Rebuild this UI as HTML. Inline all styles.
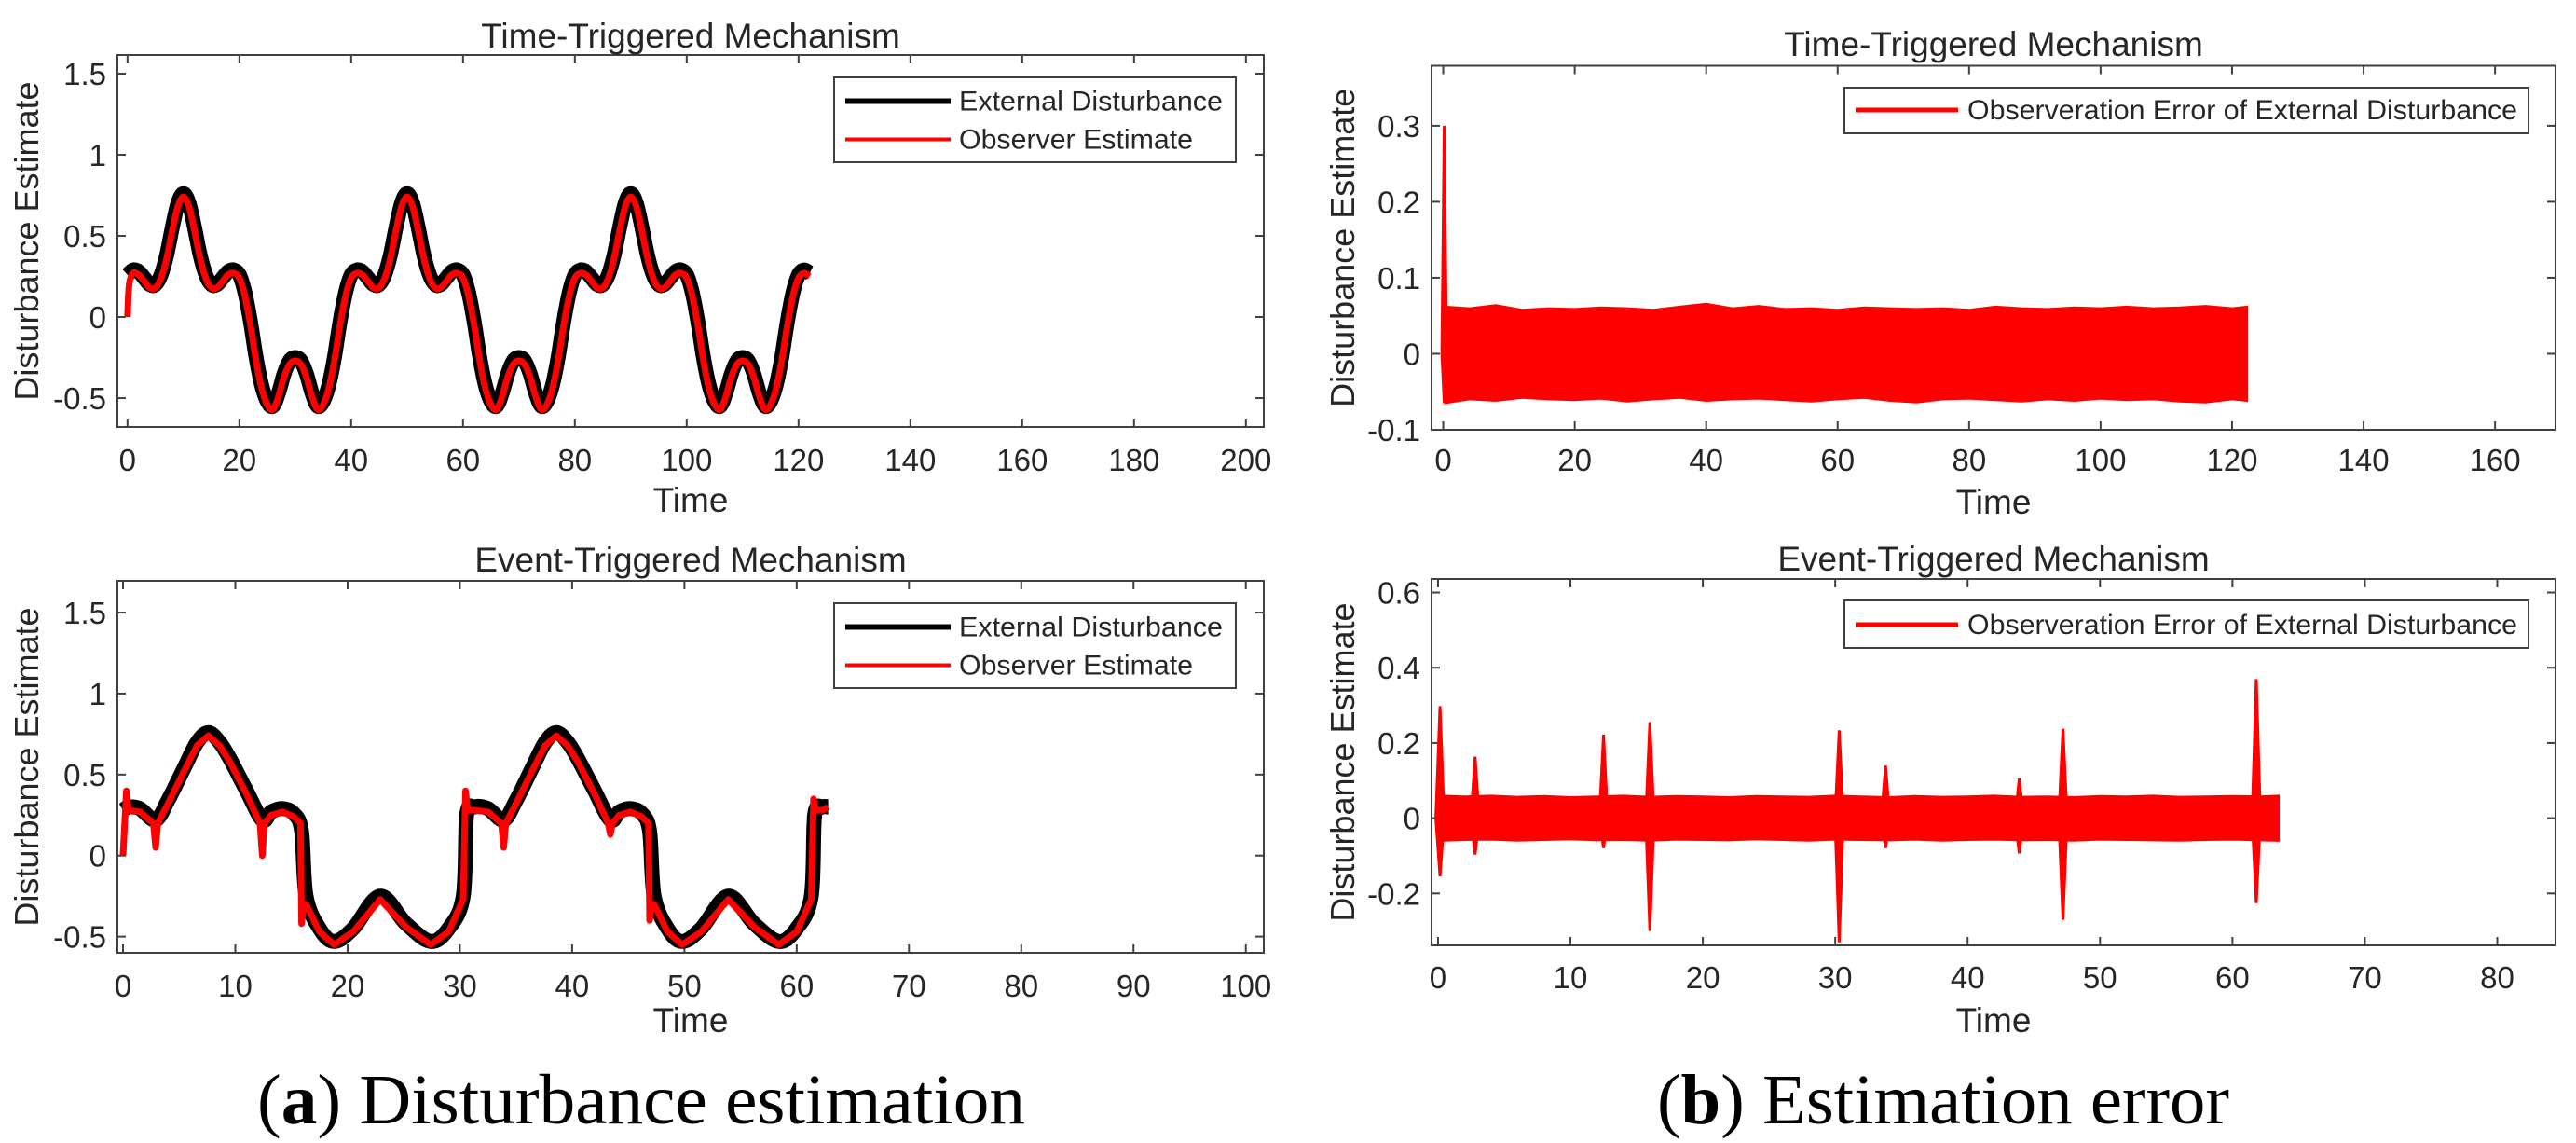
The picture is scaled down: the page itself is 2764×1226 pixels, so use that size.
<!DOCTYPE html>
<html><head><meta charset="utf-8"><style>
html,body{margin:0;padding:0;background:#fff}
svg{display:block}
text{font-family:"Liberation Sans",sans-serif;fill:#262626}
.cap{font-family:"Liberation Serif",serif;fill:#000}
</style></head><body>
<svg id="fig" width="2764" height="1226" viewBox="0 0 2764 1226" xmlns="http://www.w3.org/2000/svg">
<rect width="2764" height="1226" fill="#fff"/>
<text class="cap" x="276" y="1205" font-size="76" textLength="824" lengthAdjust="spacingAndGlyphs">(<tspan font-weight="bold">a</tspan>) Disturbance estimation</text>
<text class="cap" x="1778" y="1205" font-size="76" textLength="614" lengthAdjust="spacingAndGlyphs">(<tspan font-weight="bold">b</tspan>) Estimation error</text>
</svg>
<script>
// ---- Time-triggered disturbance (top-left) ----
const ttTime = [0,1,2,3,4,5,6,7,8,9,10,11,12,13,14,15,16,17,18,19,20,21,22,23,24,25,26,27,28,29,30,31,32,33,34,35,36,37,38,39,40,41,42,43,44,45,46,47,48,49,50,51,52,53,54,55,56,57,58,59,60,61,62,63,64,65,66,67,68,69,70,71,72,73,74,75,76,77,78,79,80,81,82,83,84,85,86,87,88,89,90,91,92,93,94,95,96,97,98,99,100,101,102,103,104,105,106,107,108,109,110,111,112,113,114,115,116,117,118,119,120,121,122];
const ttDisturbance = [0.26,0.29,0.28,0.24,0.2,0.2,0.26,0.38,0.55,0.7,0.76,0.7,0.55,0.38,0.26,0.2,0.2,0.24,0.28,0.29,0.26,0.15,-0.03,-0.25,-0.42,-0.52,-0.55,-0.47,-0.35,-0.27,-0.25,-0.27,-0.35,-0.47,-0.55,-0.52,-0.42,-0.25,-0.03,0.15,
0.26,0.29,0.28,0.24,0.2,0.2,0.26,0.38,0.55,0.7,0.76,0.7,0.55,0.38,0.26,0.2,0.2,0.24,0.28,0.29,0.26,0.15,-0.03,-0.25,-0.42,-0.52,-0.55,-0.47,-0.35,-0.27,-0.25,-0.27,-0.35,-0.47,-0.55,-0.52,-0.42,-0.25,-0.03,0.15,
0.26,0.29,0.28,0.24,0.2,0.2,0.26,0.38,0.55,0.7,0.76,0.7,0.55,0.38,0.26,0.2,0.2,0.24,0.28,0.29,0.26,0.15,-0.03,-0.25,-0.42,-0.52,-0.55,-0.47,-0.35,-0.27,-0.25,-0.27,-0.35,-0.47,-0.55,-0.52,-0.42,-0.25,-0.03,0.15,
0.26,0.29,0.27];
const ttObsTime = [0,0.3,1,2,3,4,5,6,7,8,9,10,11,12,13,14,15,16,17,18,19,20,21,22,23,24,25,26,27,28,29,30,31,32,33,34,35,36,37,38,39,40,41,42,43,44,45,46,47,48,49,50,51,52,53,54,55,56,57,58,59,60,61,62,63,64,65,66,67,68,69,70,71,72,73,74,75,76,77,78,79,80,81,82,83,84,85,86,87,88,89,90,91,92,93,94,95,96,97,98,99,100,101,102,103,104,105,106,107,108,109,110,111,112,113,114,115,116,117,118,119,120,121,122];
const ttObserver = [0,0.2,0.27,0.26,0.22,0.18,0.18,0.24,0.36,0.53,0.68,0.74,0.68,0.53,0.36,0.24,0.18,0.18,0.22,0.26,0.27,0.24,0.13,-0.05,-0.27,-0.44,-0.54,-0.57,-0.49,-0.37,-0.29,-0.27,-0.29,-0.37,-0.49,-0.57,-0.54,-0.44,-0.27,-0.05,0.13,
0.24,0.27,0.26,0.22,0.18,0.18,0.24,0.36,0.53,0.68,0.74,0.68,0.53,0.36,0.24,0.18,0.18,0.22,0.26,0.27,0.24,0.13,-0.05,-0.27,-0.44,-0.54,-0.57,-0.49,-0.37,-0.29,-0.27,-0.29,-0.37,-0.49,-0.57,-0.54,-0.44,-0.27,-0.05,0.13,
0.24,0.27,0.26,0.22,0.18,0.18,0.24,0.36,0.53,0.68,0.74,0.68,0.53,0.36,0.24,0.18,0.18,0.22,0.26,0.27,0.24,0.13,-0.05,-0.27,-0.44,-0.54,-0.57,-0.49,-0.37,-0.29,-0.27,-0.29,-0.37,-0.49,-0.57,-0.54,-0.44,-0.27,-0.05,0.13,
0.24,0.27,0.25];
// ---- Event-triggered disturbance (bottom-left) ----
const etTime = [0,0.5,1.5,2.9,4,5.5,6.6,7.6,8.6,9.5,11,12.4,13.2,14.2,15.2,15.9,16.3,17.5,18.8,20.5,22.9,25.2,27.4,29,30.3,30.6,31.3,32.5,33.9,35,36.5,37.6,38.6,39.6,40.5,42,43.4,44.2,45.2,46.2,46.9,47.3,48.5,49.8,51.5,53.9,56.2,58.4,60,61.3,61.6,62.3,62.8];
const etDisturbance = [0.28,0.3,0.29,0.22,0.34,0.55,0.7,0.76,0.7,0.6,0.4,0.22,0.27,0.29,0.26,0.15,-0.25,-0.45,-0.53,-0.45,-0.25,-0.42,-0.53,-0.45,-0.25,0.25,0.3,0.29,0.22,0.34,0.55,0.7,0.76,0.7,0.6,0.4,0.22,0.27,0.29,0.26,0.15,-0.25,-0.45,-0.53,-0.45,-0.25,-0.42,-0.53,-0.45,-0.25,0.25,0.3,0.3];
const etObsTime = [0,0.3,0.5,1.5,2.7,2.9,3.1,4,5.5,6.6,7.6,8.6,9.5,11,12.2,12.4,12.6,13.2,14.2,15.2,15.8,15.9,16.1,16.3,17.5,18.8,20.5,22.9,25.2,27.4,29,30.3,30.5,30.7,31.3,32.5,33.7,33.9,34.1,35,36.5,37.6,38.6,39.6,40.5,42,43.2,43.4,43.6,44.2,45.2,46.2,46.8,46.9,47.1,47.3,48.5,49.8,51.5,53.9,56.2,58.4,60,61.3,61.5,61.7,62.3,62.8];
const etObserver = [0,0.4,0.28,0.27,0.2,0.05,0.2,0.32,0.53,0.68,0.74,0.68,0.58,0.38,0.2,0.0,0.2,0.25,0.27,0.24,0.2,-0.42,-0.3,-0.3,-0.47,-0.55,-0.47,-0.27,-0.44,-0.55,-0.47,-0.27,0.4,0.28,0.28,0.27,0.2,0.05,0.2,0.32,0.53,0.68,0.74,0.68,0.58,0.38,0.2,0.13,0.2,0.25,0.27,0.24,0.2,-0.4,-0.3,-0.3,-0.47,-0.55,-0.47,-0.27,-0.44,-0.55,-0.47,-0.27,0.35,0.28,0.28,0.3];
// ---- Time-triggered error envelope (top-right) ----
const ttErrTime = [0.3,4,8,12,16,20,24,28,32,36,40,44,48,52,56,60,64,68,72,76,80,84,88,92,96,100,104,108,112,116,120,122.3];
const ttErrUpper = [0.062,0.06,0.064,0.058,0.06,0.059,0.061,0.06,0.058,0.062,0.066,0.06,0.063,0.059,0.06,0.058,0.061,0.06,0.059,0.06,0.058,0.062,0.06,0.059,0.061,0.06,0.062,0.06,0.061,0.063,0.06,0.062];
const ttErrLower = [-0.065,-0.06,-0.062,-0.058,-0.06,-0.061,-0.059,-0.063,-0.06,-0.058,-0.062,-0.06,-0.059,-0.061,-0.063,-0.06,-0.058,-0.062,-0.064,-0.06,-0.059,-0.061,-0.063,-0.06,-0.062,-0.059,-0.061,-0.06,-0.063,-0.064,-0.06,-0.062];
const ttSpikeTime = [0.15];
const ttSpikeUp = [0.3];
const ttSpikeDown = [-0.065];
// ---- Event-triggered error (bottom-right) ----
const etErrTime = [0.3,2,4,6,8,10,12,14,16,18,20,22,24,26,28,30,32,34,36,38,40,42,44,46,48,50,52,54,56,58,60,62,63.5];
const etErrUpper = [0.06,0.058,0.06,0.057,0.059,0.056,0.058,0.06,0.057,0.059,0.058,0.056,0.059,0.058,0.057,0.06,0.058,0.056,0.059,0.057,0.058,0.06,0.057,0.058,0.056,0.059,0.058,0.06,0.057,0.058,0.059,0.058,0.06];
const etErrLower = [-0.06,-0.058,-0.057,-0.06,-0.058,-0.056,-0.059,-0.058,-0.06,-0.057,-0.058,-0.059,-0.056,-0.058,-0.06,-0.057,-0.058,-0.059,-0.057,-0.06,-0.058,-0.057,-0.059,-0.058,-0.06,-0.057,-0.058,-0.059,-0.06,-0.058,-0.057,-0.059,-0.06];
const etSpikeTime = [0.15,2.8,12.5,16.0,30.3,33.8,43.9,47.2,61.8];
const etSpikeUp = [0.298,0.164,0.222,0.256,0.234,0.14,0.106,0.238,0.37];
const etSpikeDown = [-0.155,-0.097,-0.08,-0.30,-0.33,-0.08,-0.094,-0.27,-0.226];
// ---- tick labels ----
const ttXTicks = [0,20,40,60,80,100,120,140,160,180,200];
const etXTicks = [0,10,20,30,40,50,60,70,80,90,100];
const distYTicks = [-0.5,0,0.5,1,1.5];
const ttErrXTicks = [0,20,40,60,80,100,120,140,160];
const ttErrYTicks = [-0.1,0,0.1,0.2,0.3];
const etErrXTicks = [0,10,20,30,40,50,60,70,80];
const etErrYTicks = [-0.2,0,0.2,0.4,0.6];

const NS = 'http://www.w3.org/2000/svg';
const fig = document.getElementById('fig');
function mk(tag, attrs, parent){
  const e = document.createElementNS(NS, tag);
  for (const k in attrs) e.setAttribute(k, attrs[k]);
  (parent||fig).appendChild(e);
  return e;
}
function makeAxes(o){
  const g = mk('g', {});
  
  
  const sx = v => o.x0 + (v - o.xmin) / (o.xmax - o.xmin) * (o.x1 - o.x0);
  const sy = v => o.y1 - (v - o.ymin) / (o.ymax - o.ymin) * (o.y1 - o.y0);
  const box = mk('rect', {x:o.x0, y:o.y0, width:o.x1-o.x0, height:o.y1-o.y0, fill:'#fff', stroke:'#404040', 'stroke-width':2}, g);
  
  
  o.xticks.forEach(v => {
    const x = sx(v);
    mk('line', {x1:x, x2:x, y1:o.y1, y2:o.y1-9, stroke:'#404040', 'stroke-width':2}, g);
    mk('line', {x1:x, x2:x, y1:o.y0, y2:o.y0+9, stroke:'#404040', 'stroke-width':2}, g);
    const t = mk('text', {x:x, y:o.tickY, 'font-size':33, 'text-anchor':'middle'}, g);
    t.textContent = String(v);
    
    
  });
  o.yticks.forEach(v => {
    const y = sy(v);
    mk('line', {x1:o.x0, x2:o.x0+9, y1:y, y2:y, stroke:'#404040', 'stroke-width':2}, g);
    mk('line', {x1:o.x1, x2:o.x1-9, y1:y, y2:y, stroke:'#404040', 'stroke-width':2}, g);
    const t = mk('text', {x:o.x0-12, y:y+12, 'font-size':33, 'text-anchor':'end'}, g);
    t.textContent = String(v);
    
    
  });
  const cx = (o.x0 + o.x1) / 2;
  const ti = mk('text', {x:cx, y:o.titleY, 'font-size':37, 'text-anchor':'middle'}, g);
  ti.textContent = o.title;
  
  
  const xl = mk('text', {x:cx, y:o.xlabY, 'font-size':37, 'text-anchor':'middle'}, g);
  xl.textContent = 'Time';
  
  
  const cy = (o.y0 + o.y1) / 2;
  const yl = mk('text', {x:o.ylabX, y:cy, 'font-size':36, 'text-anchor':'middle', transform:'rotate(-90 '+o.ylabX+' '+cy+')'}, g);
  yl.textContent = 'Disturbance Estimate';
  
  
  const clip = mk('clipPath', {id:o.name+'-clip'}, g);
  mk('rect', {x:o.x0, y:o.y0, width:o.x1-o.x0, height:o.y1-o.y0}, clip);
  const data = mk('g', {'clip-path':'url(#'+o.name+'-clip)'}, g);
  return {g, data, sx, sy};
}
function smoothPath(ax, ts, vs){
  const p = ts.map((t,i)=>[ax.sx(t), ax.sy(vs[i])]);
  let d = 'M'+p[0][0].toFixed(1)+','+p[0][1].toFixed(1);
  for (let i=0;i<p.length-1;i++){
    const p0=p[Math.max(0,i-1)], p1=p[i], p2=p[i+1], p3=p[Math.min(p.length-1,i+2)];
    const c1=[p1[0]+(p2[0]-p0[0])/6, p1[1]+(p2[1]-p0[1])/6];
    const c2=[p2[0]-(p3[0]-p1[0])/6, p2[1]-(p3[1]-p1[1])/6];
    d += ' C'+c1[0].toFixed(1)+','+c1[1].toFixed(1)+' '+c2[0].toFixed(1)+','+c2[1].toFixed(1)+' '+p2[0].toFixed(1)+','+p2[1].toFixed(1);
  }
  return d;
}
function linePath(ax, ts, vs){
  return ts.map((t,i)=>(i?'L':'M')+ax.sx(t).toFixed(1)+','+ax.sy(vs[i]).toFixed(1)).join(' ');
}
function bandPath(ax, ts, up, lo){
  let d = ts.map((t,i)=>(i?'L':'M')+ax.sx(t).toFixed(1)+','+ax.sy(up[i]).toFixed(1)).join(' ');
  for (let i=ts.length-1;i>=0;i--) d += ' L'+ax.sx(ts[i]).toFixed(1)+','+ax.sy(lo[i]).toFixed(1);
  return d+' Z';
}
function spikes(ax, ts, up, dn, halfw){
  ts.forEach((t,i)=>{
    const x=ax.sx(t), y0=ax.sy(0);
    const s = mk('path', {d:'M'+(x-halfw)+','+y0+' L'+(x-1.5)+','+ax.sy(up[i])+' L'+(x+1.5)+','+ax.sy(up[i])+' L'+(x+halfw)+','+y0+' L'+(x+1.5)+','+ax.sy(dn[i])+' L'+(x-1.5)+','+ax.sy(dn[i])+' Z', fill:'#ff0000'}, ax.data);
    
    
  });
}
function legendBox(ax, x0, y0, w, h, entries){
  const lg = mk('g', {}, ax.g);
  
  
  mk('rect', {x:x0, y:y0, width:w, height:h, fill:'#fff', stroke:'#404040', 'stroke-width':2}, lg);
  entries.forEach(e=>{
    const eg = mk('g', {}, lg);
    
    
    mk('line', {x1:e.lx0, x2:e.lx1, y1:e.y, y2:e.y, stroke:e.color, 'stroke-width':e.sw}, eg);
    const t = mk('text', {x:e.tx, y:e.y+10, 'font-size':30, textLength:e.tl, lengthAdjust:'spacingAndGlyphs'}, eg);
    t.textContent = e.label;
  });
}

// Top-left
const a1 = makeAxes({name:'tt-disturbance-chart', x0:126, x1:1356, y0:59, y1:458, xmin:-1.8, xmax:203.2, ymin:-0.678, ymax:1.615,
  xticks:ttXTicks, yticks:distYTicks, title:'Time-Triggered Mechanism', titleY:51, tickY:505, xlabY:549, ylabX:41});
const l1 = mk('path', {d:smoothPath(a1, ttTime, ttDisturbance), fill:'none', stroke:'#000', 'stroke-width':16, 'stroke-linejoin':'round'}, a1.data);


const l2 = mk('path', {d:smoothPath(a1, ttObsTime, ttObserver), fill:'none', stroke:'#ff0000', 'stroke-width':7, 'stroke-linejoin':'round'}, a1.data);


legendBox(a1, 895, 83, 431, 91, [
  {lx0:907, lx1:1020, y:108.5, color:'#000', sw:6, tx:1029, tl:283, label:'External Disturbance'},
  {lx0:907, lx1:1020, y:149.5, color:'#ff0000', sw:4, tx:1029, tl:251, label:'Observer Estimate'}]);

// Bottom-left
const a2 = makeAxes({name:'et-disturbance-chart', x0:126, x1:1356, y0:623, y1:1022, xmin:-0.5, xmax:101.6, ymin:-0.6, ymax:1.696,
  xticks:etXTicks, yticks:distYTicks, title:'Event-Triggered Mechanism', titleY:613, tickY:1069, xlabY:1107, ylabX:41});
const l3 = mk('path', {d:smoothPath(a2, etTime, etDisturbance), fill:'none', stroke:'#000', 'stroke-width':16, 'stroke-linejoin':'round'}, a2.data);


const l4 = mk('path', {d:linePath(a2, etObsTime, etObserver), fill:'none', stroke:'#ff0000', 'stroke-width':7, 'stroke-linejoin':'round'}, a2.data);


legendBox(a2, 895, 647, 431, 91, [
  {lx0:907, lx1:1020, y:672.5, color:'#000', sw:6, tx:1029, tl:283, label:'External Disturbance'},
  {lx0:907, lx1:1020, y:713.5, color:'#ff0000', sw:4, tx:1029, tl:251, label:'Observer Estimate'}]);

// Top-right
const a3 = makeAxes({name:'tt-error-chart', x0:1536, x1:2742, y0:70.5, y1:461, xmin:-1.78, xmax:169.2, ymin:-0.1, ymax:0.379,
  xticks:ttErrXTicks, yticks:ttErrYTicks, title:'Time-Triggered Mechanism', titleY:60, tickY:505, xlabY:551, ylabX:1453});
const b1 = mk('path', {d:bandPath(a3, ttErrTime, ttErrUpper, ttErrLower), fill:'#ff0000', stroke:'#ff0000', 'stroke-width':2}, a3.data);


spikes(a3, ttSpikeTime, ttSpikeUp, ttSpikeDown, 4);
legendBox(a3, 1979, 94, 734, 49, [
  {lx0:1991, lx1:2101, y:118, color:'#ff0000', sw:5, tx:2111, tl:590, label:'Observeration Error of External  Disturbance'}]);

// Bottom-right
const a4 = makeAxes({name:'et-error-chart', x0:1536, x1:2742, y0:621, y1:1014, xmin:-0.49, xmax:84.4, ymin:-0.338, ymax:0.636,
  xticks:etErrXTicks, yticks:etErrYTicks, title:'Event-Triggered Mechanism', titleY:612, tickY:1060, xlabY:1107, ylabX:1453});
const b2 = mk('path', {d:bandPath(a4, etErrTime, etErrUpper, etErrLower), fill:'#ff0000', stroke:'#ff0000', 'stroke-width':2}, a4.data);


spikes(a4, etSpikeTime, etSpikeUp, etSpikeDown, 6);
legendBox(a4, 1979, 644, 734, 51, [
  {lx0:1991, lx1:2101, y:670, color:'#ff0000', sw:5, tx:2111, tl:590, label:'Observeration Error of External  Disturbance'}]);
</script>
</body></html>
